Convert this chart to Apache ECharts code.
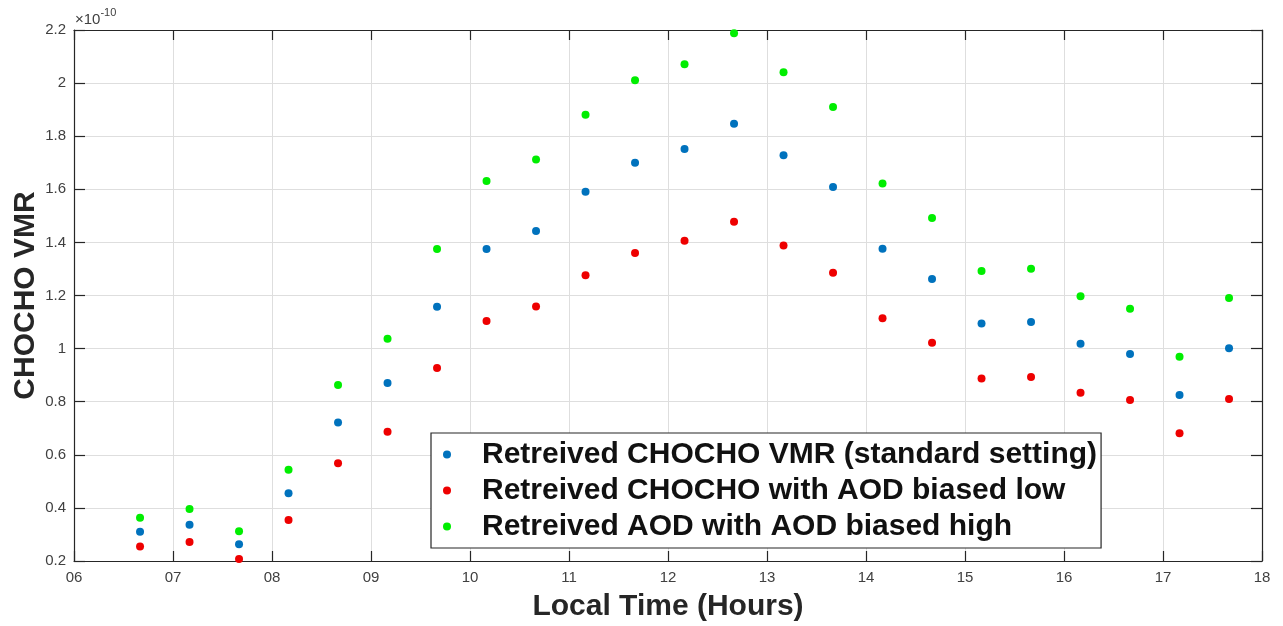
<!DOCTYPE html>
<html>
<head>
<meta charset="utf-8">
<script src="https://cdn.jsdelivr.net/npm/echarts@6/dist/echarts.min.js"></script>
<style>
  html, body { margin: 0; padding: 0; background: #fff; }
  #chart { width: 1283px; height: 626px; }
</style>
</head>
<body>
<div id="chart"></div>
<script>
// Local time of each retrieval (hours)
const hours = [6.667, 7.167, 7.667, 8.167, 8.667, 9.167, 9.667, 10.167, 10.667, 11.167, 11.667, 12.167,
               12.667, 13.167, 13.667, 14.167, 14.667, 15.167, 15.667, 16.167, 16.667, 17.167, 17.667];

// CHOCHO VMR in units of 1e-10
const standardVmr = [0.310, 0.337, 0.263, 0.455, 0.722, 0.870, 1.158, 1.375, 1.443, 1.591, 1.700, 1.752,
                     1.847, 1.728, 1.609, 1.376, 1.262, 1.095, 1.100, 1.018, 0.980, 0.825, 1.001];
const aodLowVmr   = [0.255, 0.272, 0.208, 0.354, 0.568, 0.687, 0.927, 1.104, 1.159, 1.276, 1.360, 1.406,
                     1.478, 1.388, 1.286, 1.114, 1.022, 0.887, 0.893, 0.834, 0.806, 0.681, 0.810];
const aodHighVmr  = [0.363, 0.396, 0.312, 0.544, 0.863, 1.037, 1.375, 1.631, 1.712, 1.881, 2.011, 2.071,
                     2.188, 2.041, 1.910, 1.622, 1.492, 1.292, 1.301, 1.197, 1.150, 0.969, 1.191];

const seriesNames = [
  'Retreived CHOCHO VMR (standard setting)',
  'Retreived CHOCHO with AOD biased low',
  'Retreived AOD with AOD biased high'
];

const xTicks = { min: 6, max: 18, step: 1 };
const yTicks = { min: 0.2, max: 2.2, step: 0.2 };

const FONT = 'Liberation Sans, Arial, sans-serif';
const pad2 = v => (v < 10 ? '0' : '') + Math.round(v);
const fmtY = v => String(Math.round(v * 10) / 10);

const zip = ys => hours.map((h, i) => [h, ys[i]]);

const gridLine = { show: true, lineStyle: { color: '#dedede', width: 1 } };
const boxLine = { show: true, onZero: false, lineStyle: { color: '#262626', width: 1.2 } };
const inTick = len => ({ show: true, inside: true, length: len, lineStyle: { color: '#262626', width: 1.2 } });

const chart = echarts.init(document.getElementById('chart'), null, { renderer: 'canvas' });

chart.setOption({
  backgroundColor: '#ffffff',
  animation: false,
  grid: { left: 74, right: 21, top: 30, bottom: 65, containLabel: false, outerBoundsMode: 'none' },
  xAxis: [
    {
      type: 'value', min: xTicks.min, max: xTicks.max, interval: xTicks.step,
      axisLine: boxLine, axisTick: inTick(10), splitLine: gridLine,
      axisLabel: { formatter: pad2, color: '#404040', fontSize: 15, fontFamily: FONT, margin: 9 },
      name: 'Local Time (Hours)', nameLocation: 'middle', nameGap: 31,
      nameTextStyle: { fontSize: 30, fontWeight: 'bold', color: '#262626', fontFamily: FONT }
    },
    {
      type: 'value', position: 'top', min: xTicks.min, max: xTicks.max, interval: xTicks.step,
      axisLine: boxLine, axisTick: inTick(10), axisLabel: { show: false }, splitLine: { show: false }
    }
  ],
  yAxis: [
    {
      type: 'value', min: yTicks.min, max: yTicks.max, interval: yTicks.step,
      axisLine: boxLine, axisTick: inTick(11), splitLine: gridLine,
      axisLabel: { formatter: fmtY, color: '#404040', fontSize: 15, fontFamily: FONT, margin: 8 },
      name: 'CHOCHO VMR', nameLocation: 'middle', nameGap: 33, nameRotate: 90, nameMoveOverlap: false,
      nameTextStyle: { fontSize: 30, fontWeight: 'bold', color: '#262626', fontFamily: FONT }
    },
    {
      type: 'value', position: 'right', min: yTicks.min, max: yTicks.max, interval: yTicks.step,
      axisLine: boxLine, axisTick: inTick(11), axisLabel: { show: false }, splitLine: { show: false }
    }
  ],
  legend: {
    orient: 'vertical',
    left: 431, top: 433,
    backgroundColor: '#ffffff',
    borderColor: '#262626', borderWidth: 1.2, borderRadius: 0,
    padding: [6, 4, 6, 12],
    itemGap: 5,
    itemWidth: 8, itemHeight: 8,
    icon: 'circle',
    textStyle: { fontSize: 30, fontWeight: 'bold', color: '#111', fontFamily: FONT,
                 lineHeight: 31, padding: [0, 0, 0, 26] },
    data: seriesNames
  },
  graphic: [
    {
      type: 'text', left: 75, top: 7,
      style: {
        text: '{b|×10}{s|-10}',
        rich: {
          b: { fontSize: 15, fontFamily: FONT, fill: '#404040', padding: [7, 0, 0, 0] },
          s: { fontSize: 11, fontFamily: FONT, fill: '#404040', padding: [0, 0, 8, 0] }
        }
      }
    }
  ],
  series: [
    { name: seriesNames[0], type: 'scatter', data: zip(standardVmr), symbolSize: 8,
      itemStyle: { color: '#0072BD', opacity: 1 } },
    { name: seriesNames[1], type: 'scatter', data: zip(aodLowVmr), symbolSize: 8,
      itemStyle: { color: '#EE0000', opacity: 1 } },
    { name: seriesNames[2], type: 'scatter', data: zip(aodHighVmr), symbolSize: 8,
      itemStyle: { color: '#00EE00', opacity: 1 } }
  ]
});
</script>
</body>
</html>
